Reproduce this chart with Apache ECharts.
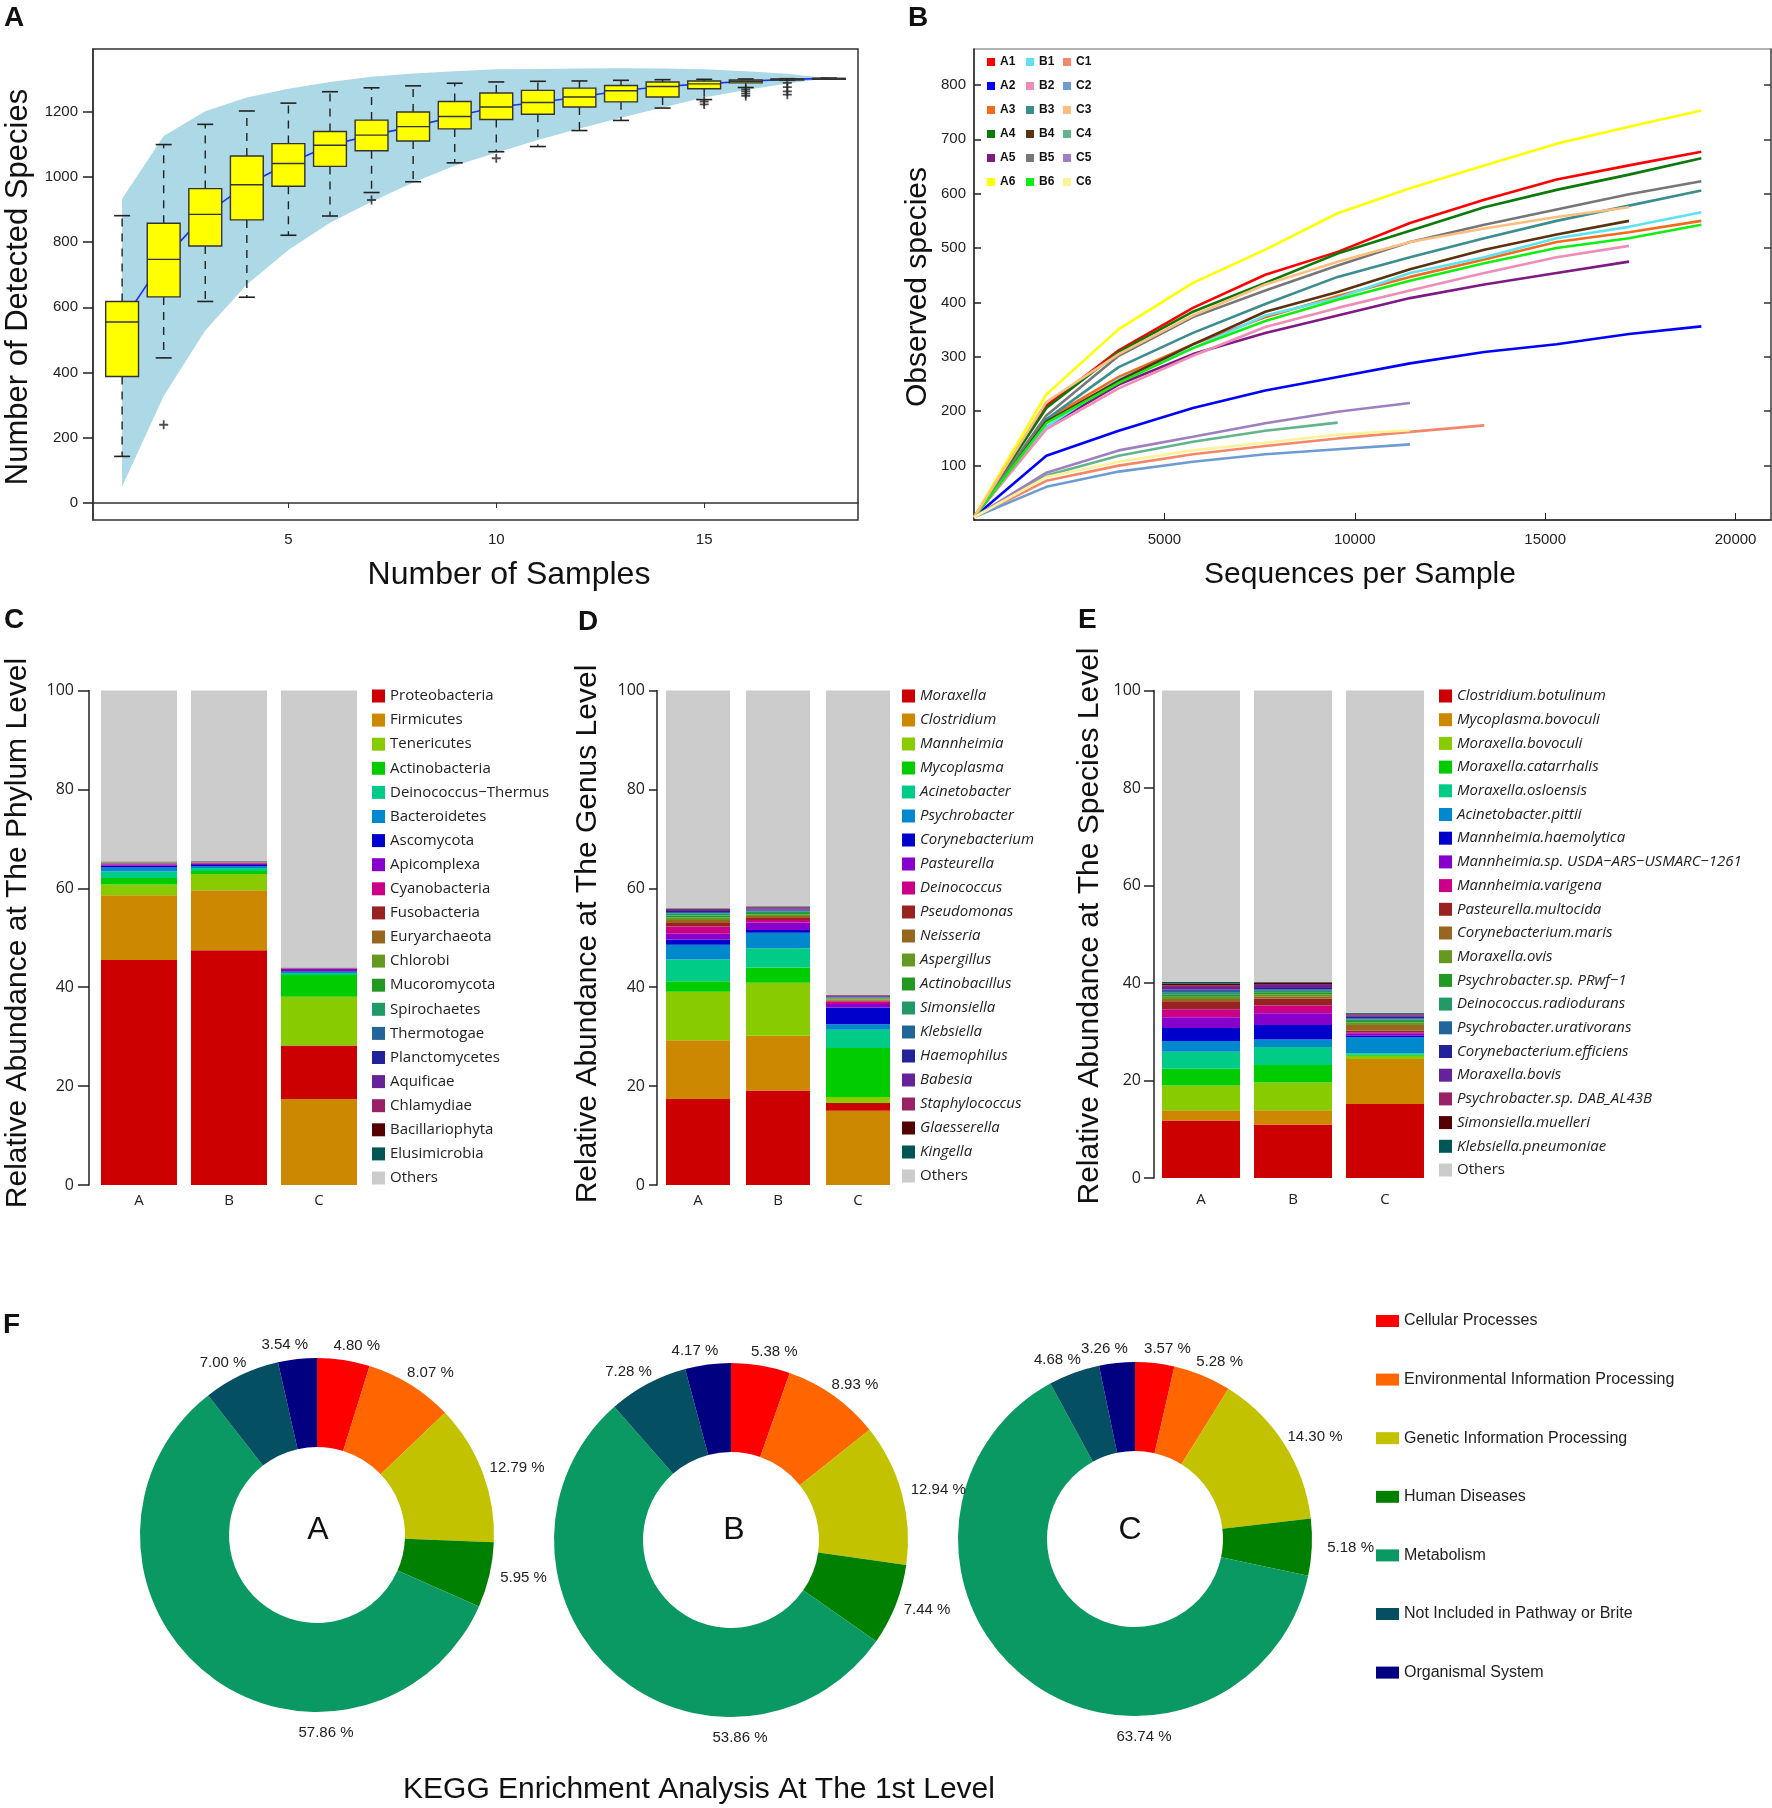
<!DOCTYPE html>
<html><head><meta charset="utf-8">
<script src="https://cdn.jsdelivr.net/npm/echarts@6/dist/echarts.min.js"></script>
<style>html,body{margin:0;padding:0;background:#fff}#c{width:1772px;height:1808px}</style>
</head><body><div id="c"></div>
<script>
// ===== Panel A: species accumulation boxplots =====
const sampleCounts = [1,2,3,4,5,6,7,8,9,10,11,12,13,14,15,16,17,18];
const boxLow  = [143,445,618,631,821,880,952,985,1043,1077,1093,1142,1173,1211,1237,1274,1296,1302];
const boxQ1   = [388,632,788,868,971,1032,1080,1110,1147,1176,1192,1214,1230,1245,1270,1288,1297,1302];
const boxMed  = [555,747,885,976,1041,1097,1128,1154,1185,1214,1228,1245,1264,1277,1285,1293,1299,1302];
const boxQ3   = [618,858,964,1064,1102,1139,1174,1199,1231,1257,1265,1272,1280,1291,1294,1297,1300,1302];
const boxHigh = [881,1099,1161,1202,1226,1261,1273,1279,1287,1291,1293,1294,1296,1298,1299,1300,1301,1302];
const outliers = [[2,240],[7,929],[10,1057],[15,1231],[15,1222],[16,1268],[16,1262],[16,1255],[16,1248],[17,1288],[17,1275],[17,1262],[17,1252]];
const bandUpper = [933,1125,1201,1243,1270,1291,1307,1317,1324,1330,1331,1332,1333,1332,1330,1324,1316,1302];
const bandLower = [51,328,529,670,776,859,924,983,1034,1074,1113,1148,1181,1213,1243,1266,1286,1302];
const ticksA_y = [0,200,400,600,800,1000,1200];
const ticksA_x = [5,10,15];

// ===== Panel B: rarefaction curves =====
const seqDepth = [0,1900,3800,5750,7650,9550,11450,13400,15300,17200,19100];
const curveA1 = [5,210,312,390,451,493,546,589,626,652,677];
const curveA2 = [5,118,164,206,238,263,288,309,323,342,356];
const curveA3 = [5,185,263,323,373,412,447,479,511,529,550];
const curveA4 = [5,206,309,383,436,490,532,575,607,635,665];
const curveA5 = [5,171,249,305,344,376,408,433,454,475];
const curveA6 = [5,231,351,436,497,564,610,652,692,723,753];
const curveB1 = [5,171,259,316,376,408,454,483,518,539,566];
const curveB2 = [5,167,242,302,355,390,422,454,483,504];
const curveB3 = [5,185,281,344,397,447,483,518,550,578,606];
const curveB4 = [5,181,256,323,383,419,461,497,525,550];
const curveB5 = [5,192,302,373,422,468,511,543,571,599,623];
const curveB6 = [5,178,252,316,366,405,440,472,500,518,543];
const curveC1 = [5,72,100,121,136,150,162,174];
const curveC2 = [5,61,89,107,121,130,139];
const curveC3 = [5,217,305,376,433,475,511,536,557,575];
const curveC4 = [5,82,118,144,164,179];
const curveC5 = [5,87,128,153,178,199,215];
const curveC6 = [5,79,107,128,142,157,165];
const sampleNamesB = ['A1','A2','A3','A4','A5','A6','B1','B2','B3','B4','B5','B6','C1','C2','C3','C4','C5','C6'];
const curvesB = [curveA1,curveA2,curveA3,curveA4,curveA5,curveA6,curveB1,curveB2,curveB3,curveB4,curveB5,curveB6,curveC1,curveC2,curveC3,curveC4,curveC5,curveC6];
const ticksB_y = [100,200,300,400,500,600,700,800];
const ticksB_x = [5000,10000,15000,20000];

// ===== Panels C, D, E: relative abundance =====
const groups = ['A','B','C'];
const phylumNames = ['Proteobacteria','Firmicutes','Tenericutes','Actinobacteria','Deinococcus\u2212Thermus','Bacteroidetes','Ascomycota','Apicomplexa','Cyanobacteria','Fusobacteria','Euryarchaeota','Chlorobi','Mucoromycota','Spirochaetes','Thermotogae','Planctomycetes','Aquificae','Chlamydiae','Bacillariophyta','Elusimicrobia','Others'];
const phylumA = [45.5,13.1,2.2,1.3,1.3,0.8,0.35,0.3,0.15,0.1,0.05,0.05,0.05,0.03,0.03,0.03,0.03,0.02,0.02,0.02,34.57];
const phylumB = [47.5,12.1,3.3,0.6,0.6,0.4,0.2,0.3,0.15,0.1,0.05,0.05,0.05,0.03,0.03,0.03,0.03,0.02,0.02,0.02,34.42];
const phylumC = [10.8,17.4,9.9,4.4,0.4,0.3,0.1,0.4,0.1,0.05,0.03,0.02,0.02,0.02,0.02,0.02,0.01,0.01,0,0,56.0];

const genusNames = ['Moraxella','Clostridium','Mannheimia','Mycoplasma','Acinetobacter','Psychrobacter','Corynebacterium','Pasteurella','Deinococcus','Pseudomonas','Neisseria','Aspergillus','Actinobacillus','Simonsiella','Klebsiella','Haemophilus','Babesia','Staphylococcus','Glaesserella','Kingella','Others'];
const genusA = [17.4,11.9,9.8,2.1,4.4,3.0,1.0,1.2,1.5,0.7,0.6,0.5,0.4,0.4,0.3,0.2,0.2,0.2,0.1,0.1,44.0];
const genusB = [19.1,11.1,10.7,3.1,3.9,3.1,0.6,1.5,0.5,0.4,0.4,0.3,0.3,0.3,0.2,0.2,0.3,0.2,0.1,0.1,43.6];
const genusC = [1.6,15.0,1.2,9.9,3.7,1.1,3.4,0.7,0.5,0.2,0.2,0.2,0.1,0.1,0.1,0.1,0.2,0.1,0.05,0.05,61.5];

const speciesNames = ['Clostridium.botulinum','Mycoplasma.bovoculi','Moraxella.bovoculi','Moraxella.catarrhalis','Moraxella.osloensis','Acinetobacter.pittii','Mannheimia.haemolytica','Mannheimia.sp. USDA\u2212ARS\u2212USMARC\u22121261','Mannheimia.varigena','Pasteurella.multocida','Corynebacterium.maris','Moraxella.ovis','Psychrobacter.sp. PRwf\u22121','Deinococcus.radiodurans','Psychrobacter.urativorans','Corynebacterium.efficiens','Moraxella.bovis','Psychrobacter.sp. DAB_AL43B','Simonsiella.muelleri','Klebsiella.pneumoniae','Others'];
const speciesA = [11.8,2.1,5.1,3.4,3.5,2.2,2.7,2.2,1.6,1.5,0.6,0.5,0.4,0.4,0.4,0.3,0.5,0.3,0.4,0.3,59.8];
const speciesB = [11.0,2.9,5.7,3.6,3.7,1.5,3.0,2.4,1.6,1.4,0.5,0.4,0.4,0.3,0.3,0.3,0.6,0.2,0.3,0.1,59.8];
const speciesC = [15.2,9.2,0.7,0.2,0.3,3.3,0.3,0.5,0.2,0.3,1.2,0.5,0.3,0.3,0.3,0.4,0.2,0.2,0.1,0.2,66.1];

// ===== Panel F: KEGG level 1 =====
const keggNames = ['Cellular Processes','Environmental Information Processing','Genetic Information Processing','Human Diseases','Metabolism','Not Included in Pathway or Brite','Organismal System'];
const keggA = [4.80,8.07,12.79,5.95,57.86,7.00,3.54];
const keggB = [5.38,8.93,12.94,7.44,53.86,7.28,4.17];
const keggC = [3.57,5.28,14.30,5.18,63.74,4.68,3.26];

// ===== styles =====
const colorsB = ['#FF0000','#0000FF','#F26B1D','#0B7A0B','#7F1A85','#FFFF00','#5DE3F0','#F08CB8','#3B8E8E','#5A3210','#777777','#11EE11','#F4866B','#6E9CD2','#FDBE7E','#62B58A','#9E7FC2','#FFF29A'];
const taxaColors = ['#CC0000','#CC8800','#88CC00','#00CC00','#00CC88','#0088CC','#0000CC','#8800CC','#CC0088','#992222','#996622','#669922','#229922','#229966','#226699','#222299','#662299','#992266','#550000','#005555','#CCCCCC'];
const keggColors = ['#FF0000','#FF6600','#C2C200','#008000','#0A9963','#054F63','#000080'];
const F = '"Liberation Sans", Arial, sans-serif';
const FO = '"Open Sans", "Liberation Sans", sans-serif';
const pieCenters = [[317,1535],[731,1540],[1135,1539]];
const plain = v => String(v);

const chart = echarts.init(document.getElementById('c'), null, {renderer:'canvas'});

const series = [];
// Panel A series
series.push({type:'custom', name:'_band', xAxisIndex:0, yAxisIndex:0, z:1, silent:true,
  encode:{x:0, y:1}, data:[[sampleCounts[0], bandLower[0]]],
  renderItem: function(params, api){
    const pts = [];
    sampleCounts.forEach((x,i)=>pts.push(api.coord([x, bandUpper[i]])));
    for (let i = sampleCounts.length-1; i >= 0; i--) pts.push(api.coord([sampleCounts[i], bandLower[i]]));
    return {type:'polygon', shape:{points:pts}, style:{fill:'#ADD8E6'}};
  }});
series.push({type:'line', name:'_median', xAxisIndex:0, yAxisIndex:0, symbol:'none', silent:true,
  lineStyle:{color:'#1A35F0', width:1.6}, data: sampleCounts.map((x,i)=>[x,boxMed[i]]), z:2});
series.push({type:'custom', name:'_boxes', xAxisIndex:0, yAxisIndex:0, z:3, silent:true,
  encode:{x:0, y:[1,2,3,4,5]},
  data: sampleCounts.map((x,i)=>[x,boxLow[i],boxQ1[i],boxMed[i],boxQ3[i],boxHigh[i]]),
  renderItem: function(params, api){
    const x = api.value(0);
    const pL = api.coord([x, api.value(1)]);
    const p1 = api.coord([x, api.value(2)]);
    const pM = api.coord([x, api.value(3)]);
    const p3 = api.coord([x, api.value(4)]);
    const pH = api.coord([x, api.value(5)]);
    const bw = api.size([0.79, 0])[0];
    const cw = api.size([0.385, 0])[0];
    const cx = pM[0];
    const dash = {stroke:'#222', lineWidth:1.4, lineDash:[8,7]};
    const solid = {stroke:'#222', lineWidth:1.6};
    return {type:'group', children:[
      {type:'line', shape:{x1:cx,y1:p1[1],x2:cx,y2:pL[1]}, style:dash},
      {type:'line', shape:{x1:cx,y1:p3[1],x2:cx,y2:pH[1]}, style:dash},
      {type:'line', shape:{x1:cx-cw/2,y1:pL[1],x2:cx+cw/2,y2:pL[1]}, style:solid},
      {type:'line', shape:{x1:cx-cw/2,y1:pH[1],x2:cx+cw/2,y2:pH[1]}, style:solid},
      {type:'rect', shape:{x:cx-bw/2,y:p3[1],width:bw,height:Math.max(p1[1]-p3[1],1)}, style:{fill:'#FFFF00', stroke:'#333', lineWidth:1.4}},
      {type:'line', shape:{x1:cx-bw/2,y1:pM[1],x2:cx+bw/2,y2:pM[1]}, style:{stroke:'#333', lineWidth:1.4}}
    ]};
  }});
series.push({type:'scatter', name:'_outliers', xAxisIndex:0, yAxisIndex:0, z:4, silent:true,
  symbol:'path://M4,0H6V4H10V6H6V10H4V6H0V4H4Z', symbolSize:9, itemStyle:{color:'#222'}, data: outliers});

// Panel B series
sampleNamesB.forEach((n,k)=>{
  series.push({type:'line', name:n, xAxisIndex:1, yAxisIndex:1, symbol:'none', silent:true,
    lineStyle:{color:colorsB[k], width:2.6}, itemStyle:{color:colorsB[k]},
    data: curvesB[k].map((v,i)=>[seqDepth[i], v]), z:2});
});

// Stacked bars (C, D, E)
function addStack(names, a, b, c, xi, yi, barW, bottomIdxC){
  if (bottomIdxC !== undefined){
    series.push({type:'bar', name:names[bottomIdxC], xAxisIndex:xi, yAxisIndex:yi, stack:'s'+xi, barWidth:barW, silent:true,
      itemStyle:{color:taxaColors[bottomIdxC]}, data:['-','-',c[bottomIdxC]]});
  }
  names.forEach((n,i)=>{
    series.push({type:'bar', name:n, xAxisIndex:xi, yAxisIndex:yi, stack:'s'+xi, barWidth:barW, silent:true,
      itemStyle:{color:taxaColors[i]}, data:[a[i], b[i], (i===bottomIdxC ? '-' : c[i])]});
  });
}
addStack(phylumNames, phylumA, phylumB, phylumC, 2, 3, 76, 1);
addStack(genusNames, genusA, genusB, genusC, 3, 4, 64, 1);
addStack(speciesNames, speciesA, speciesB, speciesC, 4, 5, 78);

// Pies
[keggA, keggB, keggC].forEach((vals, k)=>{
  const ctr = pieCenters[k];
  series.push({type:'pie', name:'KEGG '+groups[k], center:ctr, radius:[88,177], startAngle:90, clockwise:true,
    avoidLabelOverlap:false, silent:true, color:keggColors,
    itemStyle:{borderWidth:0},
    label:{show:true, position:'outside', fontFamily:F, fontSize:15, color:'#222',
      formatter: p => p.value.toFixed(2) + ' %'},
    labelLine:{show:false, length:14, length2:0},
    labelLayout: function(p){
      if (p.dataIndex === 4) return {x: ctr[0]+9, y: ctr[1]+198, align:'center', verticalAlign:'middle'};
      const r = p.labelRect;
      if (!r) return;
      const vx = r.x + r.width/2 - ctr[0], vy = r.y + r.height/2 - ctr[1];
      const cosA = Math.abs(vy) / Math.max(1, Math.hypot(vx, vy));
      const kk = 0.62 * Math.sqrt(cosA);
      return {dx: (p.align === 'right' ? 1 : -1) * kk * (r.width/2 + 5)};
    },
    data: keggNames.map((n,i)=>({name:n, value:vals[i]}))
  });
});

function pctY(gridIndex, offset, margin, tickLen){
  return {type:'value', gridIndex, min:0, max:100, interval:20, offset,
    axisLine:{show:true, lineStyle:{color:'#222', width:1.5}},
    axisTick:{show:true, length:tickLen, lineStyle:{color:'#222', width:1.5}},
    axisLabel:{fontFamily:FO, fontSize:16, color:'#222', margin},
    splitLine:{show:false}};
}
function catX(gridIndex, margin){
  return {type:'category', gridIndex, data:groups, axisLine:{show:false}, axisTick:{show:false},
    axisLabel:{fontFamily:FO, fontSize:15, color:'#222', margin}};
}
function legendB(names, left){
  return {data:names, orient:'vertical', left, top:55, padding:0, icon:'rect', itemWidth:8, itemHeight:8, itemGap:10,
    selectedMode:false, textStyle:{fontFamily:F, fontWeight:'bold', fontSize:12, lineHeight:14, color:'#111'}};
}
function legendTaxa(names, left, gap, italic){
  return {data:names, orient:'vertical', left, top:688, padding:0, icon:'rect', itemWidth:13, itemHeight:13, itemGap:gap,
    selectedMode:false,
    formatter: italic ? (n => n === 'Others' ? '{n|' + n + '}' : '{i|' + n + '}') : undefined,
    textStyle:{fontFamily:FO, fontSize:15, lineHeight:16, color:'#222',
      rich:{i:{fontFamily:FO, fontSize:15, fontStyle:'italic', color:'#222'}, n:{fontFamily:FO, fontSize:15, color:'#222'}}}};
}

const txt = (x, y, text, font, rot, align) => ({type:'text', x, y, rotation:rot||0, silent:true,
  style:{text, font, fill:'#111', align:align||'center', textAlign:align||'center', verticalAlign:'middle', textVerticalAlign:'middle'}});

const option = {
  animation:false,
  backgroundColor:'#fff',
  grid:[
    {left:93, top:49, width:765, height:471, show:true, borderColor:'#333', borderWidth:1.5, backgroundColor:'transparent'},
    {left:974, top:49, width:797, height:471, show:true, borderColor:'#999', borderWidth:1.5, backgroundColor:'transparent'},
    {left:94, top:690.6, width:270, height:494.4},
    {left:658, top:690.6, width:240, height:494.4},
    {left:1155, top:690.6, width:276, height:487.4}
  ],
  xAxis:[
    {type:'value', gridIndex:0, min:0.3, max:18.7,
      axisLine:{show:true, lineStyle:{color:'#333', width:1.5}},
      axisTick:{show:true, length:5, customValues:ticksA_x, lineStyle:{color:'#333'}},
      axisLabel:{customValues:ticksA_x, formatter:plain, fontFamily:F, fontSize:15, color:'#222', margin:12},
      splitLine:{show:false}},
    {type:'value', gridIndex:1, min:0, max:20930,
      axisLine:{show:true, lineStyle:{color:'#222', width:1.5}},
      axisTick:{show:true, inside:true, length:7, customValues:ticksB_x, lineStyle:{color:'#222'}},
      axisLabel:{customValues:ticksB_x, formatter:plain, fontFamily:F, fontSize:15, color:'#222', margin:12},
      splitLine:{show:false}},
    catX(2, 8), catX(3, 8), catX(4, 14)
  ],
  yAxis:[
    {type:'value', gridIndex:0, min:-52, max:1392,
      axisLine:{show:true, lineStyle:{color:'#333', width:1.5}},
      axisTick:{show:true, length:10, customValues:ticksA_y, lineStyle:{color:'#222', width:1.5}},
      axisLabel:{customValues:ticksA_y, formatter:plain, fontFamily:F, fontSize:15, color:'#222', margin:15},
      splitLine:{show:false}},
    {type:'value', gridIndex:1, min:0, max:866,
      axisLine:{show:true, lineStyle:{color:'#222', width:1.5}},
      axisTick:{show:true, inside:true, length:7, customValues:ticksB_y, lineStyle:{color:'#222', width:1.5}},
      axisLabel:{customValues:ticksB_y, formatter:plain, fontFamily:F, fontSize:15, color:'#222', margin:8},
      splitLine:{show:false}},
    {type:'value', gridIndex:1, min:0, max:866, position:'right',
      axisLine:{show:true, lineStyle:{color:'#555', width:1.5}},
      axisTick:{show:true, inside:true, length:7, customValues:ticksB_y, lineStyle:{color:'#333', width:1.5}},
      axisLabel:{show:false}, splitLine:{show:false}},
    pctY(2, 5, 15, 11), pctY(3, 1, 12, 8), pctY(4, 1, 13, 10)
  ],
  legend:[
    legendB(sampleNamesB.slice(0,6), 987),
    legendB(sampleNamesB.slice(6,12), 1026),
    legendB(sampleNamesB.slice(12,18), 1063),
    legendTaxa(phylumNames, 372, 8.1, false),
    legendTaxa(genusNames, 902, 8.0, true),
    legendTaxa(speciesNames, 1439, 7.7, true),
    {data:keggNames, orient:'vertical', left:1376, top:1313, padding:0, icon:'rect', itemWidth:23, itemHeight:12, itemGap:42.6,
      selectedMode:false, textStyle:{fontFamily:F, fontSize:16, lineHeight:16, color:'#222'}}
  ],
  graphic:[
    txt(4, 18, 'A', 'bold 28px '+F, 0, 'left'),
    txt(908, 18, 'B', 'bold 28px '+F, 0, 'left'),
    txt(4, 620, 'C', 'bold 28px '+F, 0, 'left'),
    txt(578, 622, 'D', 'bold 28px '+F, 0, 'left'),
    txt(1078, 620, 'E', 'bold 28px '+F, 0, 'left'),
    txt(3, 1325, 'F', 'bold 28px '+F, 0, 'left'),
    txt(18, 287, 'Number of Detected Species', '31px '+F, Math.PI/2),
    txt(509, 575, 'Number of Samples', '32px '+F),
    txt(918, 287, 'Observed species', '30px '+F, Math.PI/2),
    txt(1360, 575, 'Sequences per Sample', '30px '+F),
    txt(18, 933, 'Relative Abundance at The Phylum Level', '30px '+F, Math.PI/2),
    txt(588, 934, 'Relative Abundance at The Genus Level', '30px '+F, Math.PI/2),
    txt(1090, 926, 'Relative Abundance at The Species Level', '30px '+F, Math.PI/2),
    txt(pieCenters[0][0]+1, pieCenters[0][1]-5, 'A', '32px '+F),
    txt(pieCenters[1][0]+3, pieCenters[1][1]-10, 'B', '32px '+F),
    txt(pieCenters[2][0]-5, pieCenters[2][1]-9, 'C', '32px '+F),
    txt(699, 1790, 'KEGG Enrichment Analysis At The 1st Level', '30px '+F)
  ],
  series
};
chart.setOption(option);
</script></body></html>
